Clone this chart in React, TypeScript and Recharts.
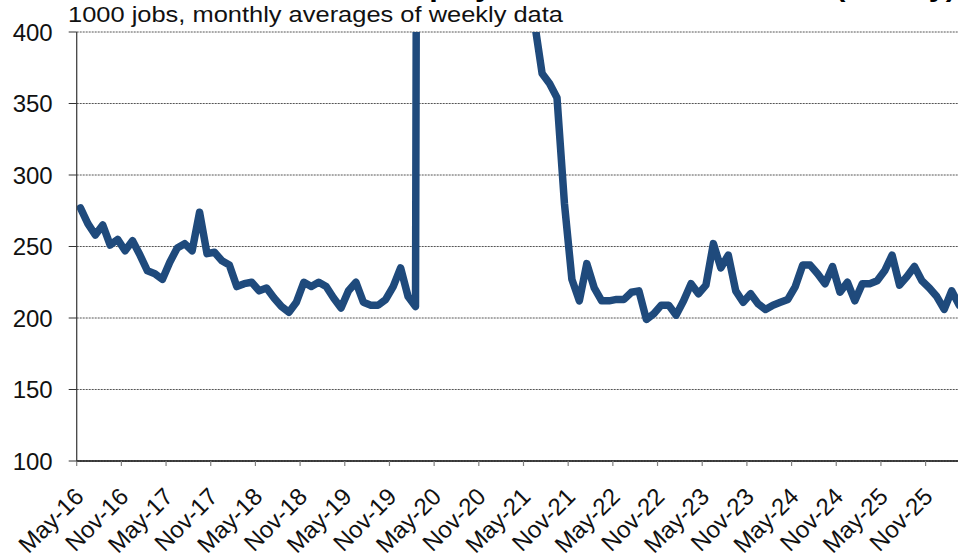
import React from 'react';
import { LineChart, Line, XAxis, YAxis, CartesianGrid } from 'recharts';

// Monthly averages of weekly initial claims, 1000 jobs, starting May-16 (one value per month)
const claims: number[] = [
  277, 266, 258, 265, 251, 255, 247, 254, 244, 233, 231, 227,
  239, 249, 252, 247, 274, 245, 246, 240, 237, 222, 224, 225,
  219, 221, 214, 208, 204, 211, 225, 222, 225, 222, 214, 207,
  219, 225, 211, 209, 209, 213, 222, 235, 215, 208, 2300, 4900,
  2600, 1550, 1350, 1000, 870, 780, 740, 820, 850, 780, 720, 570,
  450, 406, 371, 364, 354, 280, 227, 212, 238, 221, 212, 212,
  213, 213, 218, 219, 199, 203, 209, 209, 202, 212, 224, 217,
  223, 252, 235, 244, 219, 211, 217, 210, 206, 209, 211, 213,
  222, 237, 237, 231, 224, 236, 218, 225, 212, 224, 224, 226,
  233, 244, 223, 229, 236, 226, 221, 215, 206, 219, 209,
];

const tickLabels: string[] = [
  'May-16', 'Nov-16', 'May-17', 'Nov-17', 'May-18', 'Nov-18', 'May-19', 'Nov-19',
  'May-20', 'Nov-20', 'May-21', 'Nov-21', 'May-22', 'Nov-22', 'May-23', 'Nov-23',
  'May-24', 'Nov-24', 'May-25', 'Nov-25',
];

const yTicks: number[] = [100, 150, 200, 250, 300, 350, 400];

const title = 'Initial Unemployment Insurance Claims (weekly)';
const subtitle = '1000 jobs, monthly averages of weekly data';

const data = claims.map((v, i) => ({ t: i, claims: v }));
// ticks at month starts (points sit mid-month)
const xTicks = tickLabels.map((_, k) => k * 6 - 0.5);

const LINE_COLOR = '#1F4A7C';
const FONT = '"Liberation Sans", Arial, sans-serif';

const XTick = (props: any) => {
  const { x, y, payload } = props;
  const k = xTicks.indexOf(payload.value);
  const label = k >= 0 ? tickLabels[k] : '';
  return (
    <text
      transform={`translate(${x + 8.5}, ${y + 32}) rotate(-45)`}
      textAnchor="end"
      fontFamily={FONT}
      fontSize={24}
      fill="#111"
    >
      {label}
    </text>
  );
};

export default function App() {
  return (
    <div style={{ position: 'absolute', left: 0, top: 0, width: 958, height: 560, background: '#fff' }}>
      <LineChart
        width={958}
        height={560}
        data={data}
        margin={{ top: 32, right: 0, bottom: 0, left: 0 }}
      >
        <text x={256} y={-4} fontFamily={FONT} fontWeight="bold" fontSize={27} textLength={700} lengthAdjust="spacingAndGlyphs" fill="#000">
          {title}
        </text>
        <text
          x={68}
          y={22}
          fontFamily={FONT}
          fontSize={22}
          textLength={495}
          lengthAdjust="spacingAndGlyphs"
          fill="#111"
        >
          {subtitle}
        </text>
        <CartesianGrid
          horizontal
          vertical={false}
          stroke="#555"
          strokeDasharray="2 1"
          strokeWidth={1}
        />
        <XAxis
          dataKey="t"
          type="number"
          domain={[-0.5, 117.85]}
          ticks={xTicks}
          interval={0}
          allowDataOverflow
          height={99}
          tickSize={5}
          tickMargin={0}
          tickLine={{ stroke: '#808080', strokeWidth: 1.2 }}
          axisLine={{ stroke: '#111', strokeWidth: 1.3 }}
          tick={<XTick />}
        />
        <YAxis
          type="number"
          domain={[100, 400]}
          ticks={yTicks}
          interval={0}
          allowDataOverflow
          width={76.7}
          tickSize={8}
          tickMargin={16}
          tickLine={{ stroke: '#333', strokeWidth: 1 }}
          axisLine={{ stroke: '#444', strokeWidth: 1.3 }}
          tick={{ fontFamily: FONT, fontSize: 24, fill: '#111' }}
        />
        <Line
          type="linear"
          dataKey="claims"
          stroke={LINE_COLOR}
          strokeWidth={7.5}
          strokeLinejoin="round"
          strokeLinecap="round"
          dot={false}
          activeDot={false}
          isAnimationActive={false}
        />
      </LineChart>
    </div>
  );
}
